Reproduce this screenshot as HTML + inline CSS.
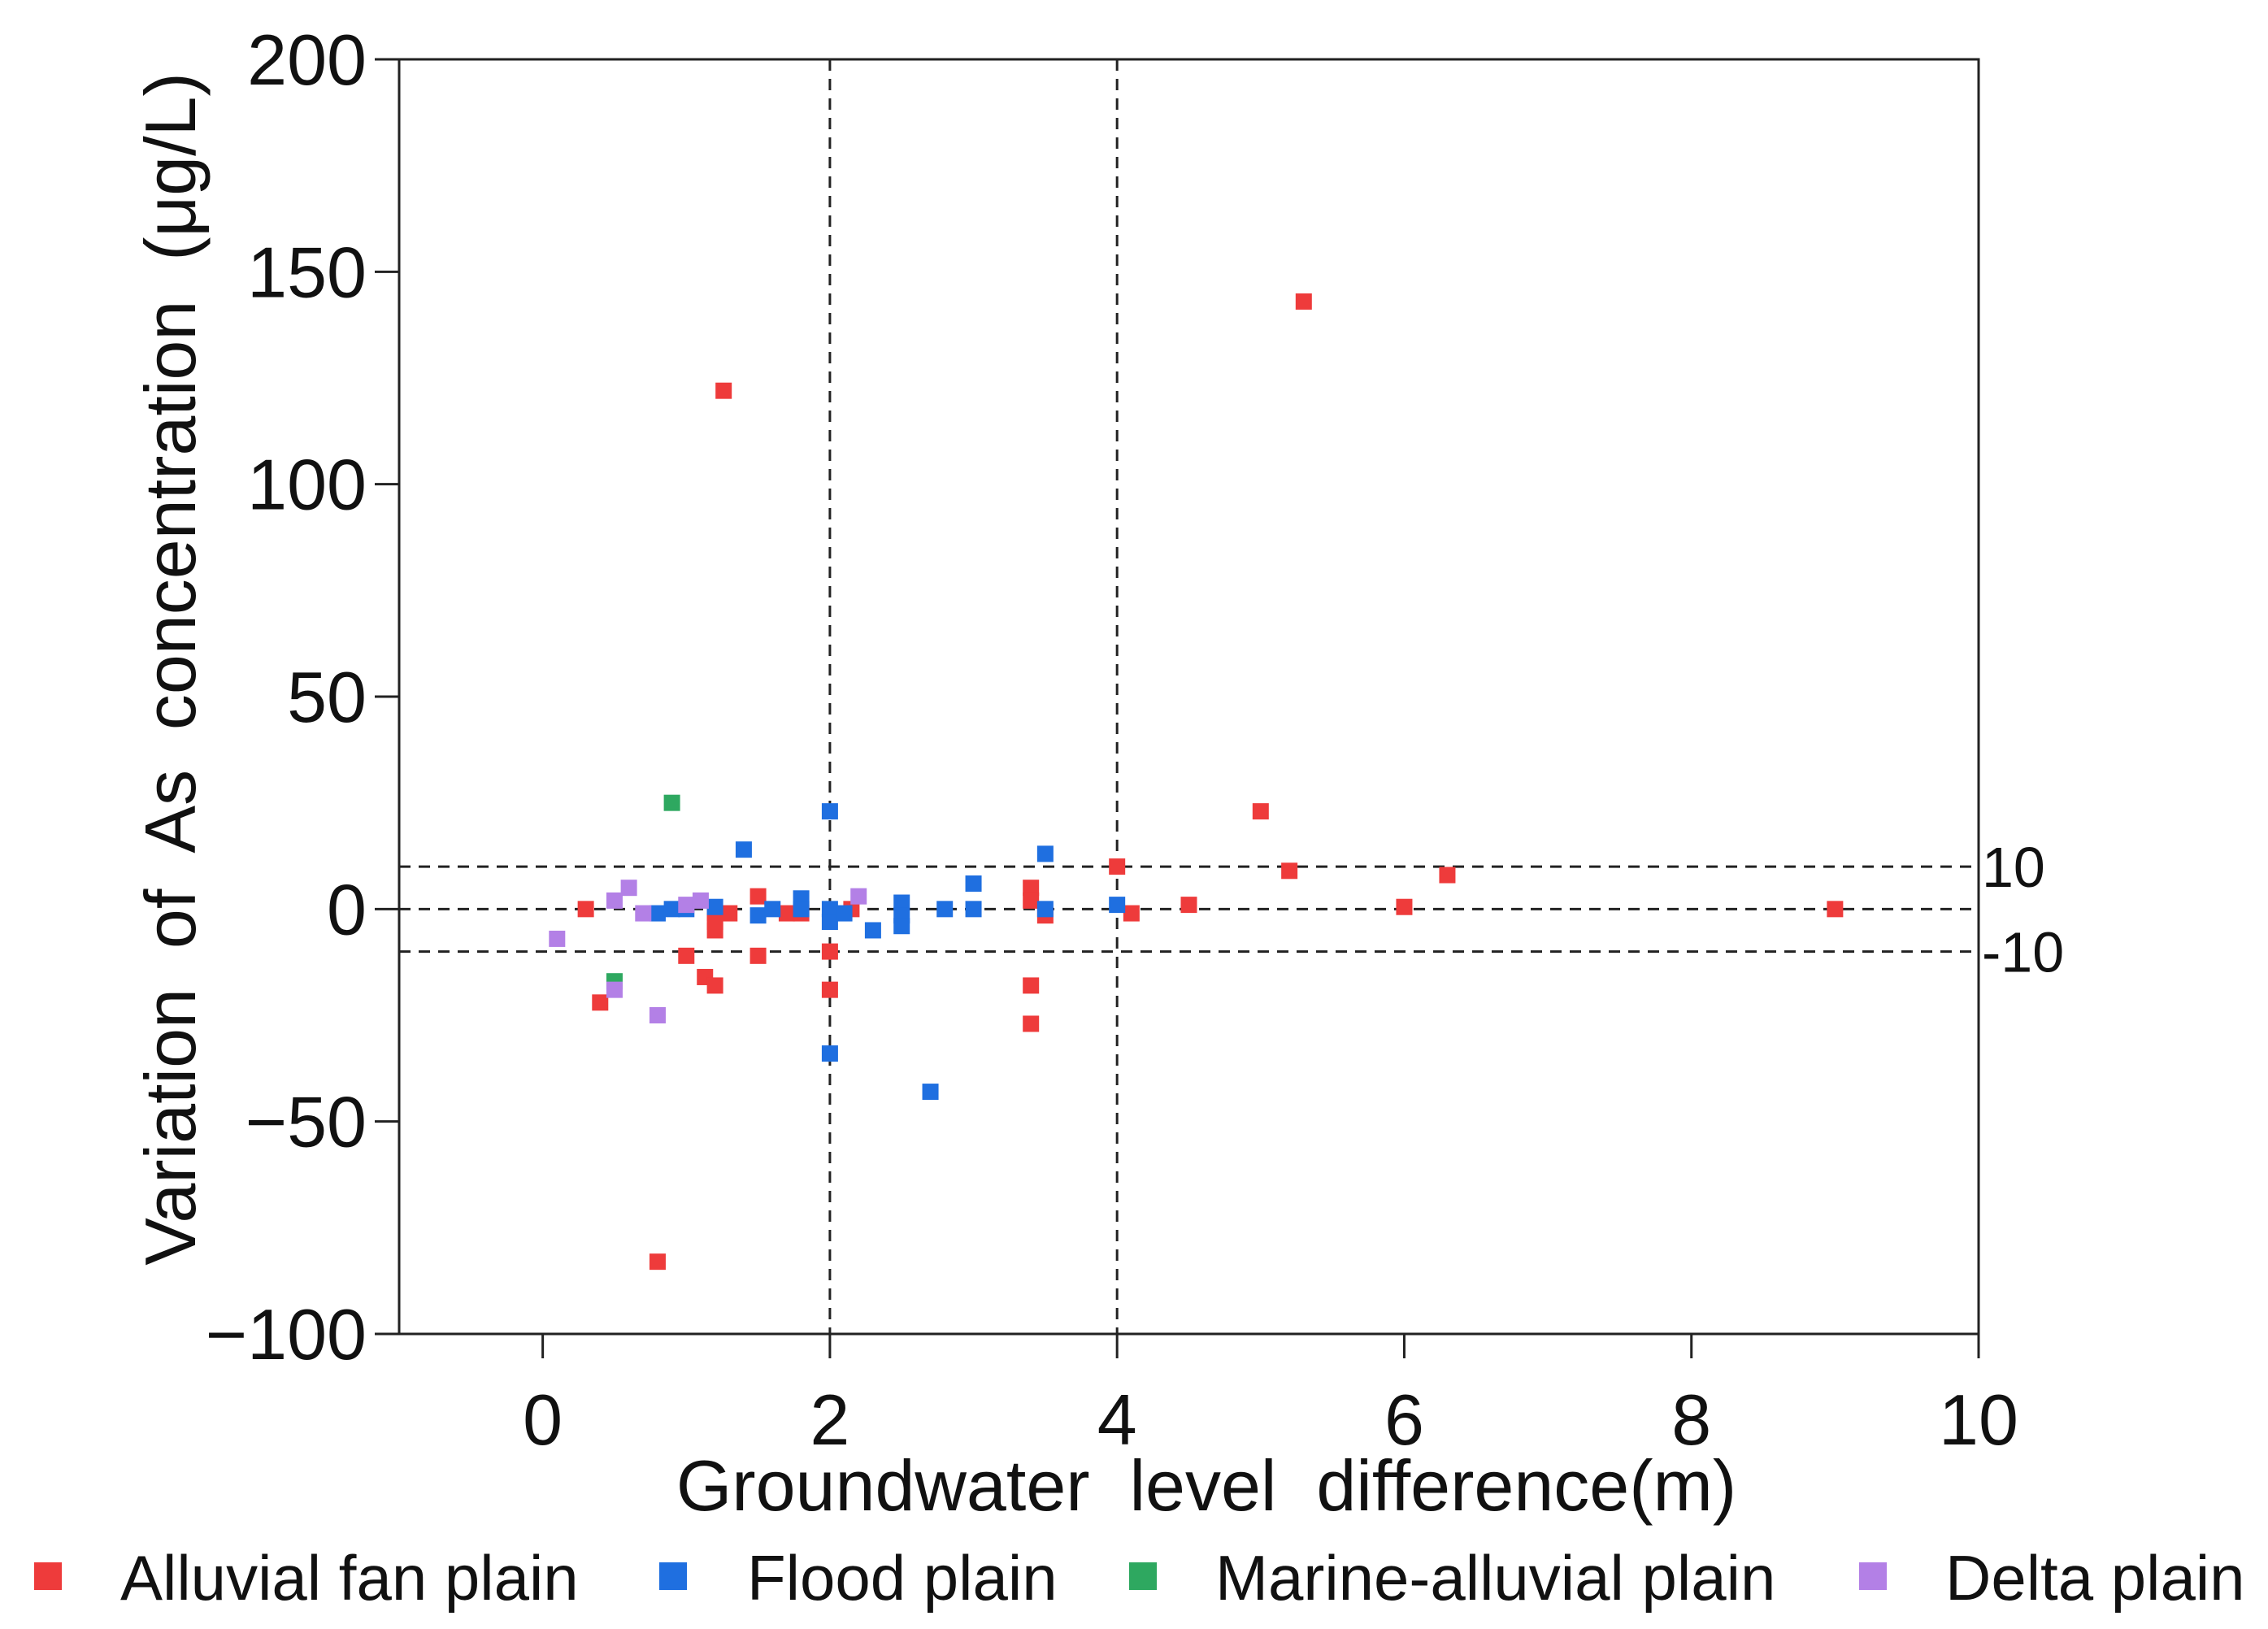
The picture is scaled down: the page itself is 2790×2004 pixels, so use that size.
<!DOCTYPE html>
<html><head><meta charset="utf-8"><style>
html,body{margin:0;padding:0;background:#fff;}
svg{display:block;font-family:"Liberation Sans",Arial,sans-serif;}
text{white-space:pre;}
</style></head><body>
<svg id="chart" width="2790" height="2004" viewBox="0 0 2790 2004" xmlns="http://www.w3.org/2000/svg"></svg>
<script>
const xTicks=[0,2,4,6,8,10];
const yTicks=[200,150,100,50,0,-50,-100];
const yTickLabels=["200","150","100","50","0","\u221250","\u2212100"];
const refY=[10,0,-10];
const refYLabels=["10","","-10"];
const refX=[2,4];
const alluvialX=[0.3,0.4,0.8,1.0,1.13,1.2,1.2,1.2,1.2,1.26,1.3,1.5,1.5,1.7,1.8,2.0,2.0,2.15,3.4,3.4,3.4,3.4,3.5,4.0,4.1,4.5,5.0,5.2,5.3,6.0,6.3,9.0];
const alluvialY=[0,-22,-83,-11,-16,-1,-3,-5,-18,122,-1,3,-11,-1,-1,-10,-19,0,5,2,-18,-27,-1.5,10,-1,1,23,9,143,0.5,8,0];
const floodX=[0.8,0.9,1.0,1.2,1.4,1.5,1.6,1.8,1.8,2.0,2.0,2.0,2.0,2.1,2.3,2.5,2.5,2.5,2.7,2.8,3.0,3.0,3.5,3.5,4.0];
const floodY=[-1,0,0,0.5,14,-1.5,0,2.5,0,23,0,-3,-34,-1,-5,1.5,-1.5,-4,-43,0,6,0,13,0,1];
const marineX=[0.9,0.5];
const marineY=[25,-17];
const deltaX=[0.1,0.5,0.6,0.7,0.8,1.0,1.1,2.2,0.5];
const deltaY=[-7,2,5,-1,-25,1,2,3,-19];

const L=491,R=2434,T=73,B=1641;
const xMin=-1,xMax=10,yMin=-100,yMax=200;
const sx=v=>L+(v-xMin)/(xMax-xMin)*(R-L);
const sy=v=>B-(v-yMin)/(yMax-yMin)*(B-T);
const svg=document.getElementById('chart');
const NS='http://www.w3.org/2000/svg';
function mk(tag,attrs,parent){const e=document.createElementNS(NS,tag);for(const k in attrs)e.setAttribute(k,attrs[k]);(parent||svg).appendChild(e);return e;}

const frame=mk('rect',{x:L,y:T,width:R-L,height:B-T,fill:'none',stroke:'#222','stroke-width':3});



yTicks.forEach((v,i)=>{
  const t=mk('line',{x1:L-30,x2:L,y1:sy(v),y2:sy(v),stroke:'#222','stroke-width':3});
  
  
  const lb=mk('text',{x:L-40,y:sy(v)+31,'font-size':88,'text-anchor':'end',fill:'#111'});
  lb.textContent=yTickLabels[i];
  
  
});
xTicks.forEach(v=>{
  const t=mk('line',{x1:sx(v),x2:sx(v),y1:B,y2:B+30,stroke:'#222','stroke-width':3});
  
  
  const lb=mk('text',{x:sx(v),y:B+136,'font-size':88,'text-anchor':'middle',fill:'#111'});
  lb.textContent=String(v);
  
  
});
refY.forEach((v,i)=>{
  const l=mk('line',{x1:L,x2:R,y1:sy(v),y2:sy(v),stroke:'#222','stroke-width':3,'stroke-dasharray':'14 10'});
  
  
  if(refYLabels[i]){
    const lb=mk('text',{x:R+4,y:sy(v)+25,'font-size':70,fill:'#111'});
    lb.textContent=refYLabels[i];
    
    
  }
});
refX.forEach(v=>{
  const l=mk('line',{x1:sx(v),x2:sx(v),y1:T,y2:B,stroke:'#222','stroke-width':3,'stroke-dasharray':'14 10'});
  
  
});
const series=[
  {xs:alluvialX,ys:alluvialY,c:'#ee3b3b',n:'alluvial-fan-point'},
  {xs:floodX,ys:floodY,c:'#1f6fe0',n:'flood-plain-point'},
  {xs:marineX,ys:marineY,c:'#2ea860',n:'marine-alluvial-point'},
  {xs:deltaX,ys:deltaY,c:'#b380e6',n:'delta-plain-point'}
];
const S=20;
series.forEach(s=>{
  s.xs.forEach((x,i)=>{
    const r=mk('rect',{x:sx(x)-S/2,y:sy(s.ys[i])-S/2,width:S,height:S,fill:s.c});
    
    
  });
});
const xt=mk('text',{x:1484,y:1858,'font-size':88,'text-anchor':'middle',fill:'#111'});
xt.textContent='Groundwater  level  difference(m)';


const yt=mk('text',{x:0,y:0,'font-size':88,'text-anchor':'middle',fill:'#111',transform:'translate(240,823) rotate(-90)'});
yt.textContent='Variation  of  As  concentration  (\u03bcg/L)';


const leg=[
  {mx:59,tx:148,c:'#ee3b3b',t:'Alluvial fan plain',n:'legend-alluvial-fan-plain'},
  {mx:828,tx:919,c:'#1f6fe0',t:'Flood plain',n:'legend-flood-plain'},
  {mx:1406,tx:1495,c:'#2ea860',t:'Marine-alluvial plain',n:'legend-marine-alluvial-plain'},
  {mx:2304,tx:2393,c:'#b380e6',t:'Delta plain',n:'legend-delta-plain'}
];
leg.forEach(e=>{
  const g=mk('g',{});
  
  
  mk('rect',{x:e.mx-17,y:1922,width:34,height:34,fill:e.c},g);
  const t=mk('text',{x:e.tx,y:1968,'font-size':78,fill:'#111'},g);
  t.textContent=e.t;
});
</script>
</body></html>
